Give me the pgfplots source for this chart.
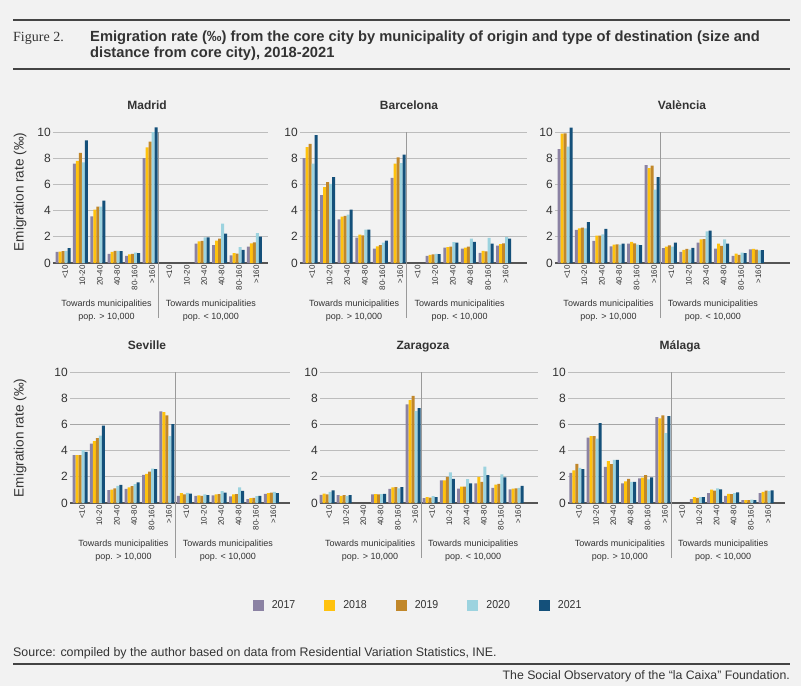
\documentclass[border=0pt]{standalone}
\usepackage{pgfplots}
\pgfplotsset{compat=1.18}
\usepackage{pgfplotstable}
\usepackage{fontspec}
\setmainfont{Liberation Sans}
\newfontfamily\figfont{Liberation Serif}
\newfontfamily\condfont[FakeStretch=0.92]{Liberation Sans}
\newfontfamily\titlefont{Liberation Sans}

\definecolor{bgc}{HTML}{F2F2F2}
\definecolor{c17}{HTML}{8B82A3}
\definecolor{c18}{HTML}{FFC20E}
\definecolor{c19}{HTML}{C1872A}
\definecolor{c20}{HTML}{9CD3DF}
\definecolor{c21}{HTML}{14507A}
\definecolor{textc}{HTML}{333333}
\definecolor{gridc}{HTML}{BDBDBD}
\definecolor{axisc}{HTML}{555555}
\definecolor{divc}{HTML}{9A9A9A}
\definecolor{rulec}{HTML}{444444}

\pgfplotstableread{
g a b c d e
0 0.85 0.87 0.90 0.92 1.13
1 7.58 7.80 8.40 7.68 9.36
2 3.56 4.07 4.30 4.30 4.76
3 0.70 0.85 0.92 0.92 0.90
4 0.55 0.65 0.70 0.80 0.75
5 8.00 8.83 9.26 10.00 10.36
8 1.48 1.65 1.68 1.96 1.96
9 1.37 1.70 1.86 3.00 2.24
10 0.58 0.75 0.72 1.22 1.00
11 1.25 1.50 1.57 2.29 2.01
}\madrid

\pgfplotstableread{
g a b c d e
0 8.00 8.85 9.10 7.58 9.77
1 5.19 5.80 6.18 6.05 6.56
2 3.33 3.54 3.59 3.70 4.07
3 1.93 2.16 2.10 2.54 2.54
4 1.10 1.27 1.37 1.55 1.70
5 6.50 7.58 8.07 7.63 8.27
7 0.55 0.62 0.65 0.70 0.68
8 1.17 1.22 1.25 1.60 1.56
9 1.10 1.17 1.25 1.86 1.62
10 0.78 0.93 0.88 1.91 1.48
11 1.33 1.45 1.50 1.98 1.86
}\barcelona

\pgfplotstableread{
g a b c d e
0 8.70 9.87 9.90 8.88 10.33
1 2.52 2.65 2.70 2.65 3.13
2 1.68 2.09 2.09 2.19 2.60
3 1.27 1.40 1.42 1.40 1.47
4 1.47 1.62 1.50 1.40 1.37
5 7.48 7.25 7.43 5.60 6.56
6 1.13 1.25 1.35 1.25 1.55
7 0.85 1.00 1.08 1.02 1.15
8 1.55 1.80 1.82 2.42 2.47
9 1.10 1.47 1.30 1.81 1.48
10 0.55 0.72 0.62 0.80 0.75
11 1.05 1.08 1.02 0.97 0.98
}\valencia

\pgfplotstableread{
g a b c d e
0 3.65 3.65 3.65 4.03 3.90
1 4.53 4.73 4.96 5.14 5.90
2 0.98 1.02 1.12 1.30 1.38
3 1.08 1.20 1.28 1.45 1.58
4 2.15 2.22 2.40 2.63 2.58
5 6.99 6.94 6.68 5.11 6.03
6 0.55 0.75 0.65 0.78 0.72
7 0.55 0.58 0.55 0.65 0.60
8 0.58 0.65 0.68 0.90 0.80
9 0.50 0.65 0.68 1.20 0.92
10 0.30 0.38 0.40 0.52 0.55
11 0.70 0.75 0.80 0.85 0.75
}\seville

\pgfplotstableread{
g a b c d e
0 0.62 0.72 0.65 0.85 0.97
1 0.60 0.55 0.60 0.55 0.60
3 0.65 0.68 0.65 0.68 0.70
4 1.08 1.20 1.22 1.12 1.22
5 7.52 7.85 8.18 7.01 7.24
6 0.38 0.45 0.42 0.52 0.45
7 1.72 1.72 2.00 2.33 1.85
8 1.10 1.25 1.25 1.82 1.50
9 1.50 2.00 1.62 2.78 2.13
10 1.15 1.40 1.47 2.18 1.95
11 1.05 1.10 1.12 1.15 1.30
}\zaragoza

\pgfplotstableread{
g a b c d e
0 2.30 2.50 2.99 2.68 2.58
1 4.99 5.11 5.11 4.91 6.10
2 2.76 3.19 2.96 3.29 3.29
3 1.50 1.65 1.85 1.62 1.62
4 1.88 1.93 2.12 1.80 1.95
5 6.56 6.46 6.68 5.34 6.63
7 0.30 0.45 0.40 0.45 0.45
8 0.75 1.02 0.95 1.12 1.05
9 0.55 0.70 0.68 0.75 0.82
10 0.22 0.22 0.22 0.25 0.22
11 0.75 0.85 0.95 0.92 0.97
}\malaga

\pgfplotsset{
  panel/.style={
    scale only axis, anchor=south west, height=131pt,
    ymin=0, ymax=10, ytick={0,2,4,6,8,10},
    ymajorgrids, grid style={gridc, line width=0.8pt},
    axis x line*=bottom, axis y line*=left,
    y axis line style={draw=none},
    x axis line style={-, draw=axisc, line width=1.1pt},
    major tick length=0pt, tick style={draw=none},
    xtick={0,...,11},
    xticklabels={<10,10-20,20-40,40-80,80-160,>160,<10,10-20,20-40,40-80,80-160,>160},
    xticklabel style={rotate=90, anchor=east, font=\fontsize{8}{9}\selectfont, text=textc, inner sep=2pt, yshift=-2pt},
    yticklabel style={font=\fontsize{12}{14}\selectfont, text=textc, inner sep=2pt},
    /pgf/number format/assume math mode=true,
    ybar=0pt, bar width=3pt,
    clip=false,
  },
  lower/.style={
    extra y ticks={6}, extra y tick labels={},
    extra y tick style={grid=major, major grid style={draw=gridc!88!black, line width=1.8pt}},
  },
}

\newcommand{\fivebars}[1]{%
  \addplot[fill=c17, draw=none] table[x=g,y=a]{#1};
  \addplot[fill=c18, draw=none] table[x=g,y=b]{#1};
  \addplot[fill=c19, draw=none] table[x=g,y=c]{#1};
  \addplot[fill=c20, draw=none] table[x=g,y=d]{#1};
  \addplot[fill=c21, draw=none] table[x=g,y=e]{#1};
}
\newcommand{\decor}{%
  \draw[divc, line width=0.7pt] (axis cs:5.5,10) -- ([yshift=-55pt]axis cs:5.5,0);
  \node[font=\fontsize{9}{11}\selectfont, text=textc, anchor=base] at ([yshift=-43pt]axis cs:2.5,0) {Towards municipalities};
  \node[font=\fontsize{9}{11}\selectfont, text=textc, anchor=base] at ([yshift=-56pt]axis cs:2.5,0) {pop. > 10,000};
  \node[font=\fontsize{9}{11}\selectfont, text=textc, anchor=base] at ([yshift=-43pt]axis cs:8.5,0) {Towards municipalities};
  \node[font=\fontsize{9}{11}\selectfont, text=textc, anchor=base] at ([yshift=-56pt]axis cs:8.5,0) {pop. < 10,000};
}

\begin{document}
\begin{tikzpicture}
\begin{scope}[x=1pt,y=1pt]
\fill[bgc] (0,0) rectangle (801,-686);

% header
\draw[rulec, line width=2pt] (13,-20) -- (790,-20);
\draw[rulec, line width=2pt] (13,-69) -- (790,-69);
\node[anchor=base west, inner sep=0pt, text=textc, font=\figfont\fontsize{14}{16}\selectfont] at (13,-41) {Figure 2.};
\node[anchor=base west, inner sep=0pt, text=textc, font=\titlefont\bfseries\fontsize{14.7}{16}\selectfont] at (90,-41) {Emigration rate (‰) from the core city by municipality of origin and type of destination (size and};
\node[anchor=base west, inner sep=0pt, text=textc, font=\titlefont\bfseries\fontsize{14.7}{16}\selectfont] at (90,-57) {distance from core city), 2018-2021};

% panel titles
\foreach \t/\x/\y in {Madrid/147/109, Barcelona/409/109, València/682/109, Seville/147/349, Zaragoza/423/349, Málaga/680/349}
  \node[anchor=base, font=\bfseries\fontsize{12}{14}\selectfont, text=textc] at (\x,-\y) {\t};

\node[rotate=90, font=\fontsize{13.6}{15}\selectfont, text=textc] at (20,-192) {Emigration rate (‰)};
\node[rotate=90, font=\fontsize{13.6}{15}\selectfont, text=textc] at (20,-438) {Emigration rate (‰)};

% footer
\node[anchor=base west, inner sep=0pt, text=textc, font=\titlefont\fontsize{12.4}{13}\selectfont] at (13,-656) {Source: compiled by the author based on data from Residential Variation Statistics, INE.};
\draw[rulec, line width=2pt] (13,-664) -- (790,-664);
\node[anchor=base east, inner sep=0pt, text=textc, font=\titlefont\fontsize{12.3}{13}\selectfont] at (790,-679) {The Social Observatory of the “la Caixa” Foundation.};
\end{scope}

% Madrid
\begin{axis}[panel, at={(53pt,-263pt)}, width=215pt, xmin=-0.575, xmax=11.78]
\fivebars{\madrid}
\decor
\end{axis}
% Barcelona
\begin{axis}[panel, at={(300pt,-263pt)}, width=227pt, xmin=-0.57, xmax=12.33]
\fivebars{\barcelona}
\decor
\end{axis}
% Valencia
\begin{axis}[panel, at={(555pt,-263pt)}, width=235pt, xmin=-0.575, xmax=12.93]
\fivebars{\valencia}
\decor
\end{axis}
% Seville
\begin{axis}[panel, lower, at={(70pt,-503pt)}, width=220pt, xmin=-0.575, xmax=12.07]
\fivebars{\seville}
\decor
\end{axis}
% Zaragoza
\begin{axis}[panel, lower, at={(320pt,-503pt)}, width=218pt, xmin=-0.41, xmax=12.27,
  legend image code/.code={\fill[#1] (0pt,-5.5pt) rectangle (11pt,5.5pt);},
  legend style={at={(0.45,-0.78)}, anchor=center, draw=none, fill=none,
    legend columns=5, font=\condfont\fontsize{11.5}{13}\selectfont, text=textc,
    /tikz/every odd column/.append style={column sep=6pt},
    /tikz/every even column/.append style={column sep=27pt},
    nodes={inner sep=2pt}},
]
\fivebars{\zaragoza}
\decor
\legend{2017,2018,2019,2020,2021}
\end{axis}
% Malaga
\begin{axis}[panel, lower, at={(568pt,-503pt)}, width=217pt, xmin=-0.52, xmax=12.1]
\fivebars{\malaga}
\decor
\end{axis}

\pgfresetboundingbox
\path[use as bounding box] (0,0) rectangle (801pt,-686pt);
\end{tikzpicture}
\end{document}
